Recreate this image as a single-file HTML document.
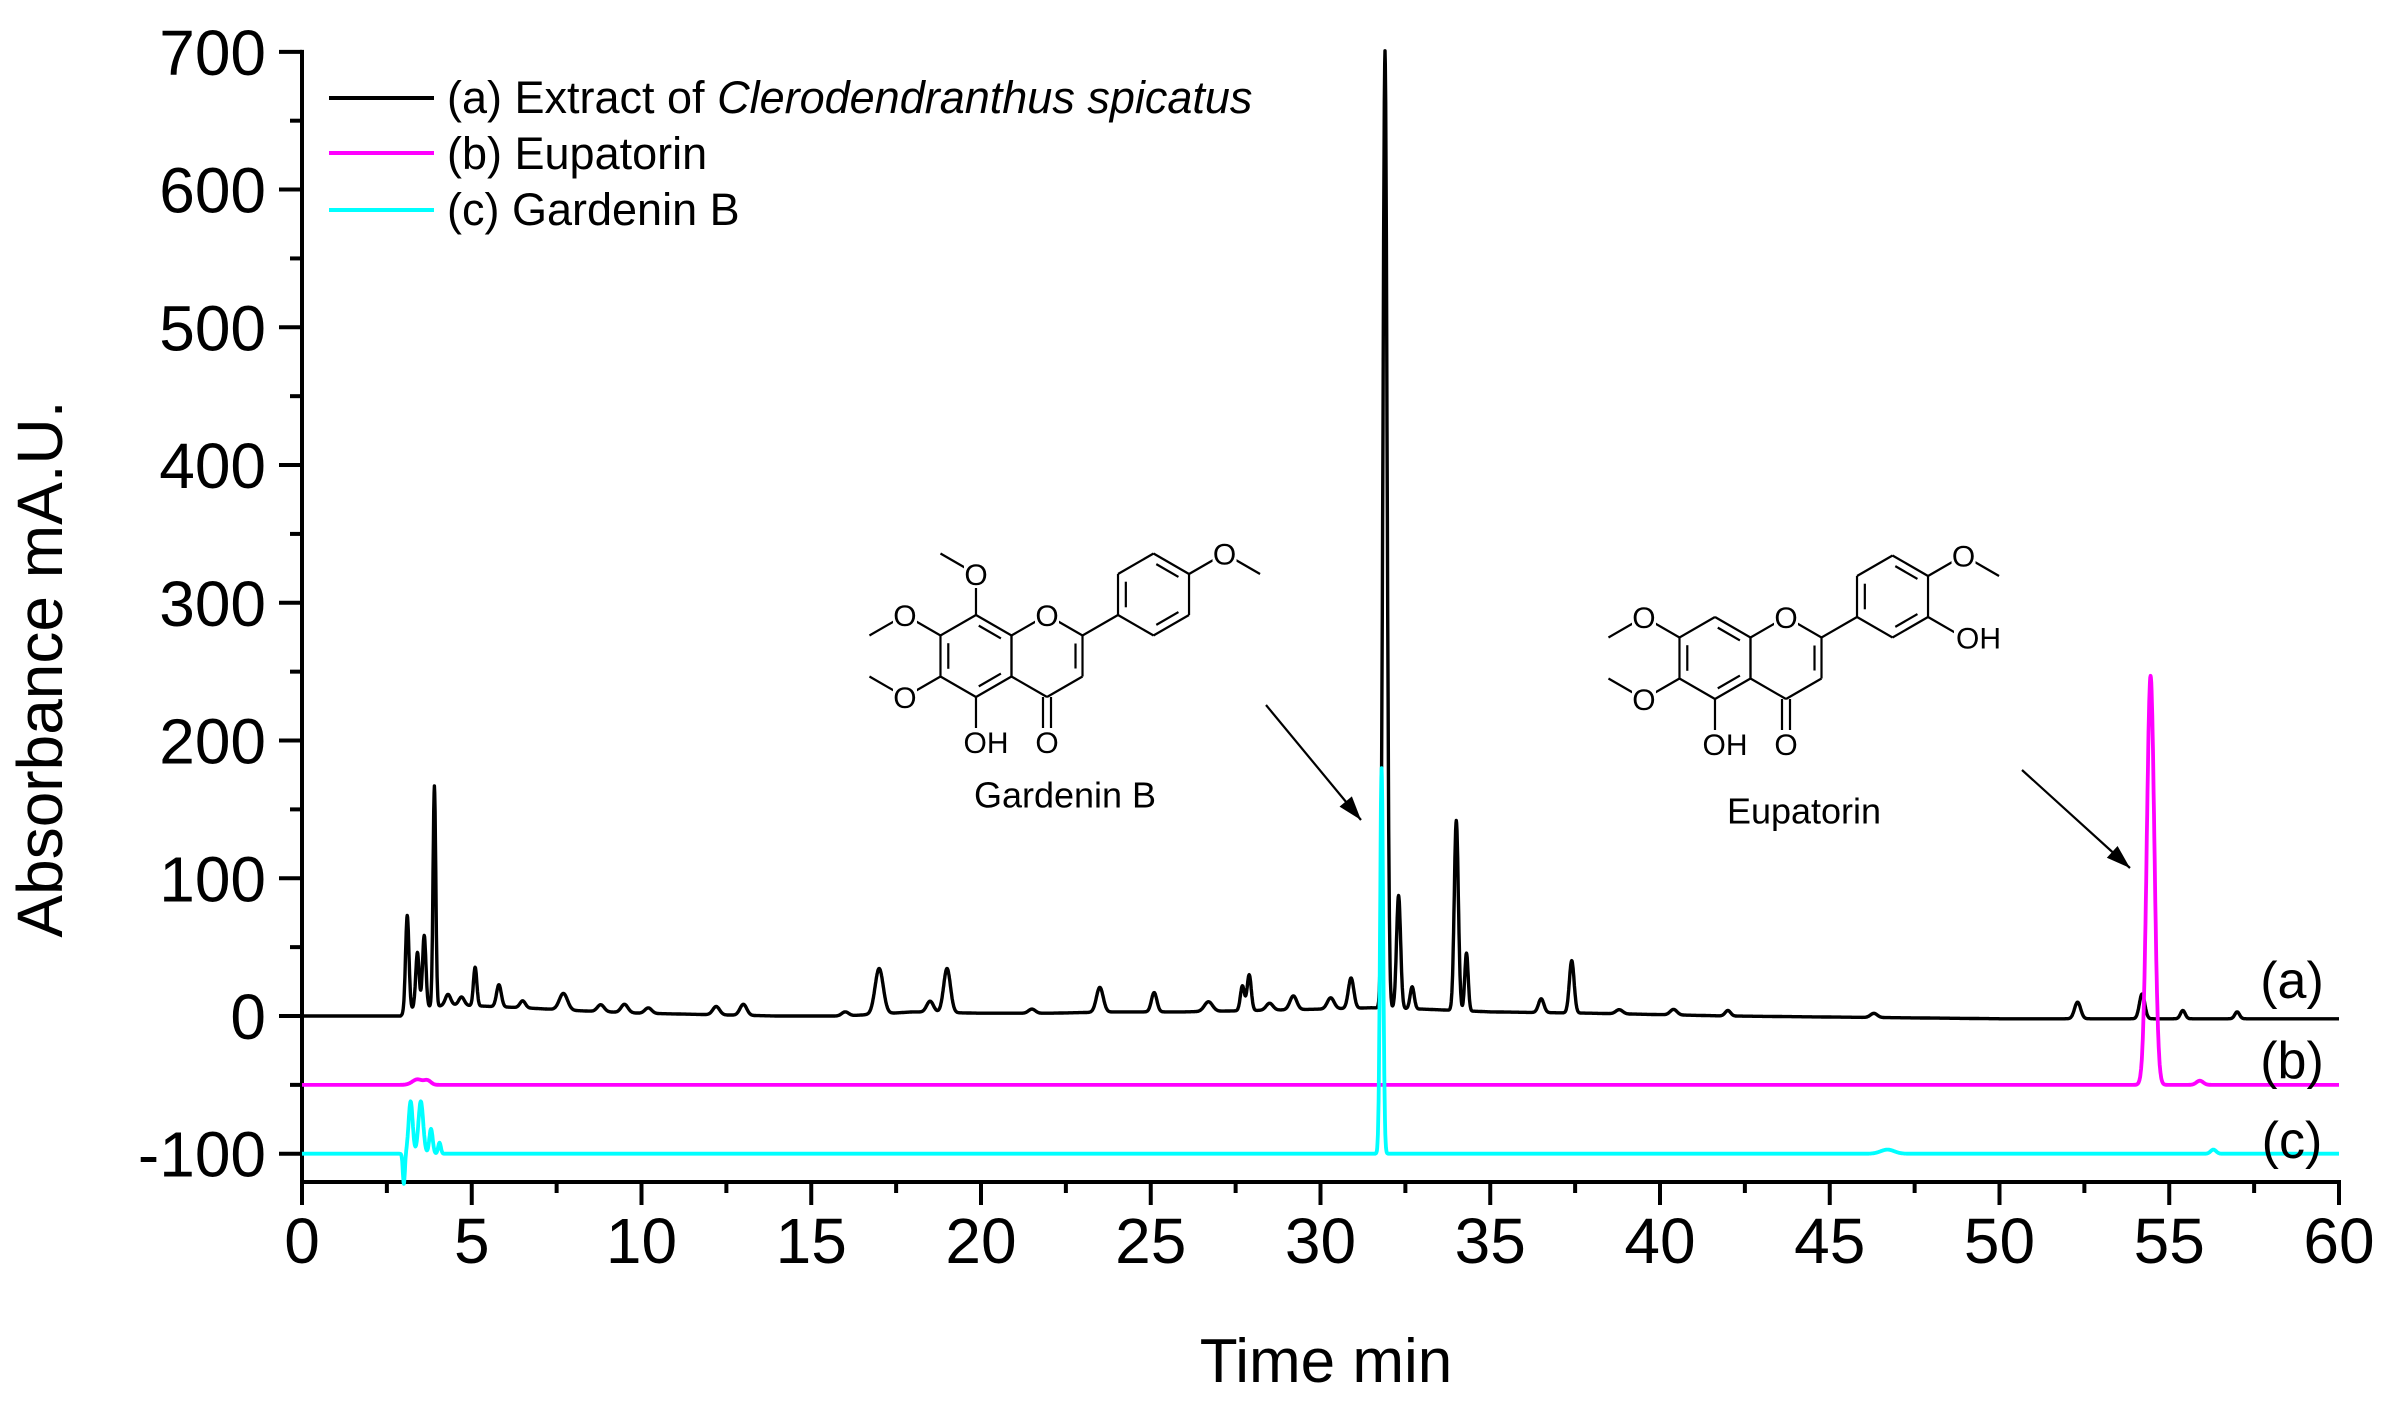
<!DOCTYPE html>
<html><head><meta charset="utf-8"><style>
html,body{margin:0;padding:0;background:#fff}
svg{display:block;font-family:"Liberation Sans",Arial,sans-serif}
</style></head><body>
<svg id="chart" width="2400" height="1404" viewBox="0 0 2400 1404" xmlns="http://www.w3.org/2000/svg">
<g id="axes"></g>
<g id="series"></g>
<g id="struct"></g>
<g id="legend">
<line x1="329" y1="98" x2="434" y2="98" stroke="#000" stroke-width="4"/>
<line x1="329" y1="153" x2="434" y2="153" stroke="#ff00ff" stroke-width="4"/>
<line x1="329" y1="210" x2="434" y2="210" stroke="#00ffff" stroke-width="4"/>
<text x="447" y="113" font-size="45">(a) Extract of <tspan font-style="italic">Clerodendranthus spicatus</tspan></text>
<text x="447" y="169" font-size="45">(b) Eupatorin</text>
<text x="447" y="225" font-size="45">(c) Gardenin B</text>
</g>
<text x="2292" y="998" font-size="52" text-anchor="middle">(a)</text>
<text x="2292" y="1078" font-size="52" text-anchor="middle">(b)</text>
<text x="2292" y="1158" font-size="52" text-anchor="middle">(c)</text>
<text transform="translate(62,669) rotate(-90)" font-size="64" text-anchor="middle">Absorbance mA.U.</text>
<text x="1326" y="1382" font-size="62" text-anchor="middle">Time min</text>
</svg>
<script>
// ---- data ----
var xTicks = [0,5,10,15,20,25,30,35,40,45,50,55,60];
var yTicks = [-100,0,100,200,300,400,500,600,700];
// trace (a) baseline knots
var aBaseT = [0,2.9,3.3,4.5,6.5,8,10,12,14,16,18,20,22,24,26,28,30,31.5,33,35,38,42,46,50,54,57,60];
var aBaseV = [0,0,6,8,6,4,2,1,0,0,3,2,2,3,3,4,5,6,5,3,2,0,-1,-2,-2,-2,-2];
// trace (a) peaks: time, height, width(sigma min)
var aPkT = [3.1,3.4,3.6,3.9,4.3,4.7,5.1,5.8,6.5,7.7,8.8,9.5,10.2,12.2,13.0,16.0,17.0,18.5,19.0,21.5,23.5,25.1,26.7,27.7,27.9,28.5,29.2,30.3,30.9,31.9,32.3,32.7,34.0,34.3,36.5,37.4,38.8,40.4,42.0,46.3,52.3,54.2,55.4,57.0];
var aPkH = [70,40,52,160,8,6,28,16,5,12,5,6,4,6,8,3,33,8,32,3,18,14,7,18,26,5,10,8,22,695,82,16,138,42,10,38,3,4,4,3,12,18,6,5];
var aPkW = [0.05,0.05,0.05,0.04,0.08,0.08,0.05,0.07,0.08,0.12,0.1,0.1,0.1,0.1,0.1,0.1,0.12,0.1,0.1,0.1,0.1,0.08,0.12,0.06,0.06,0.1,0.1,0.1,0.08,0.06,0.06,0.06,0.06,0.05,0.08,0.07,0.1,0.1,0.08,0.1,0.09,0.08,0.07,0.07];
// trace (b)
var bOffset = -50;
var bPkT = [3.4,3.7,54.45,55.9];
var bPkH = [4,3,297,3];
var bPkW = [0.15,0.1,0.11,0.1];
// trace (c)
var cOffset = -100;
var cPkT = [3.0,3.2,3.5,3.8,4.05,46.7,56.3,31.8];
var cPkH = [-22,38,38,18,8,3,3,280];
var cPkW = [0.03,0.06,0.07,0.05,0.04,0.2,0.08,0.045];

// ---- axes functions ----
var X0=302,X1=2339,Y0=1016,YPER=1.3774;
function sx(t){return X0+(t-0)/(60-0)*(X1-X0);}
function sy(v){return Y0-v*YPER;}
var NS="http://www.w3.org/2000/svg";
function mk(tag,attrs,parent){var e=document.createElementNS(NS,tag);for(var k in attrs)e.setAttribute(k,attrs[k]);parent.appendChild(e);return e;}

var axes=document.getElementById('axes');
var yl=mk('line',{x1:X0,y1:sy(700)-2,x2:X0,y2:1182,stroke:'#000','stroke-width':4},axes);


var xl=mk('line',{x1:X0-2,y1:1182,x2:X1+2,y2:1182,stroke:'#000','stroke-width':4},axes);


for(var t=0;t<=60;t+=2.5){
  var major=(t%5===0);
  var tk=mk('line',{x1:sx(t),y1:1182,x2:sx(t),y2:major?1205:1193,stroke:'#000','stroke-width':4},axes);
  
  
}
xTicks.forEach(function(t){
  var tx=mk('text',{x:sx(t),y:1263,'font-size':64,'text-anchor':'middle'},axes);
  tx.textContent=t;
  
  
});
for(var v=-100;v<=700;v+=50){
  var mj=(v%100===0);
  var tk2=mk('line',{x1:mj?X0-23:X0-12,y1:sy(v),x2:X0,y2:sy(v),stroke:'#000','stroke-width':4},axes);
  
  
}
yTicks.forEach(function(v){
  var ty=mk('text',{x:266,y:sy(v)+23,'font-size':64,'text-anchor':'end'},axes);
  ty.textContent=v;
  
  
});

// ---- series ----
function interp(ts,vs,t){
  if(t<=ts[0])return vs[0];
  for(var i=1;i<ts.length;i++){if(t<=ts[i]){var f=(t-ts[i-1])/(ts[i]-ts[i-1]);return vs[i-1]+f*(vs[i]-vs[i-1]);}}
  return vs[vs.length-1];
}
function peaks(T,H,W,t){var s=0;for(var i=0;i<T.length;i++){var d=(t-T[i])/W[i];if(Math.abs(d)<6)s+=H[i]*Math.exp(-0.5*d*d);}return s;}
function buildPath(fn){
  var d='';
  for(var i=0;i<=6000;i++){var t=i*0.01;var v=fn(t);d+=(i?'L':'M')+sx(t).toFixed(1)+' '+sy(v).toFixed(1);}
  return d;
}
var ser=document.getElementById('series');
var pa=mk('path',{d:buildPath(function(t){return interp(aBaseT,aBaseV,t)+peaks(aPkT,aPkH,aPkW,t);}),fill:'none',stroke:'#000','stroke-width':3.4,'stroke-linejoin':'round'},ser);


var pb=mk('path',{d:buildPath(function(t){return bOffset+peaks(bPkT,bPkH,bPkW,t);}),fill:'none',stroke:'#ff00ff','stroke-width':3.8,'stroke-linejoin':'round'},ser);


var pc=mk('path',{d:buildPath(function(t){return cOffset+peaks(cPkT,cPkH,cPkW,t);}),fill:'none',stroke:'#00ffff','stroke-width':3.8,'stroke-linejoin':'round'},ser);



// ---- structures ----
var st=document.getElementById('struct');
function ln(x1,y1,x2,y2,g){mk('line',{x1:x1,y1:y1,x2:x2,y2:y2,stroke:'#000','stroke-width':2.2},g);}
function lbl(x,y,s,g,anchor){
  var w=s.length>1?44:24;
  var bx=(anchor==='start')?x-2:x-w/2;
  mk('rect',{x:bx,y:y-14,width:w,height:28,fill:'#fff'},g);
  var e=mk('text',{x:x,y:y+11,'font-size':30,'text-anchor':anchor||'middle',fill:'#000'},g);e.textContent=s;return e;}
function vtx(cx,cy,L,ang){var a=ang*Math.PI/180;return [cx+L*Math.cos(a),cy+L*Math.sin(a)];}
function ring(cx,cy,L,g,dbl){
  var angs=[-90,-30,30,90,150,210];
  for(var i=0;i<6;i++){var p=vtx(cx,cy,L,angs[i]),q=vtx(cx,cy,L,angs[(i+1)%6]);ln(p[0],p[1],q[0],q[1],g);
    if(dbl.indexOf(i)>=0){var pi=vtx(cx,cy,L*0.78,angs[i]),qi=vtx(cx,cy,L*0.78,angs[(i+1)%6]);
      var mx=(pi[0]+qi[0])/2,my=(pi[1]+qi[1])/2;ln(mx+(pi[0]-mx)*0.8,my+(pi[1]-my)*0.8,mx+(qi[0]-mx)*0.8,my+(qi[1]-my)*0.8,g);}}
}
function flavone(cx,cy,L,opts,name,title,titleDy){
  var g=mk('g',{},st);
  
  
  var ax=cx-L*Math.sqrt(3);
  ring(ax,cy,L,g,[0,2,4]);
  ring(cx,cy,L,g,[]);
  var c2=vtx(cx,cy,L,-30),c3=vtx(cx,cy,L,30);
  ln(c2[0]-7,c2[1]+8,c3[0]-7,c3[1]-8,g);
  var c4=vtx(cx,cy,L,90);
  ln(c4[0]-4,c4[1],c4[0]-4,c4[1]+L-8,g);ln(c4[0]+4,c4[1],c4[0]+4,c4[1]+L-8,g);
  var bx=c2[0]+2*L*Math.cos(-Math.PI/6),by=c2[1]-L;
  var bl=vtx(bx,by,L,150);ln(c2[0],c2[1],bl[0],bl[1],g);
  ring(bx,by,L,g,[0,2,4]);
  var c5=vtx(ax,cy,L,90);ln(c5[0],c5[1],c5[0],c5[1]+L*0.9,g);
  var labels=[];
  function ome(px,py,ang,ang2){var o=[px+L*Math.cos(ang*Math.PI/180),py+L*Math.sin(ang*Math.PI/180)];
    ln(px,py,o[0],o[1],g);var m=[o[0]+L*Math.cos(ang2*Math.PI/180),o[1]+L*Math.sin(ang2*Math.PI/180)];ln(o[0],o[1],m[0],m[1],g);labels.push([o[0],o[1],'O']);}
  var c7=vtx(ax,cy,L,210),c6=vtx(ax,cy,L,150),c8=vtx(ax,cy,L,-90);
  ome(c7[0],c7[1],-150,150);ome(c6[0],c6[1],150,-150);
  if(opts.c8)ome(c8[0],c8[1],-90,-150);
  var b4=vtx(bx,by,L,-30);
  ome(b4[0],b4[1],-30,30);
  if(opts.b3oh){var b3=vtx(bx,by,L,30);var o=[b3[0]+L*0.9*Math.cos(Math.PI/6),b3[1]+L*0.9*Math.sin(Math.PI/6)];ln(b3[0],b3[1],o[0],o[1],g);labels.push([o[0]-4,o[1]+2,'OH','start']);}
  labels.push([c4[0],c4[1]+L+4,'O']);
  labels.push([cx,cy-L,'O']);
  labels.push([c5[0]+10,c5[1]+L+4,'OH']);
  labels.forEach(function(l){lbl(l[0],l[1],l[2],g,l[3]);});
  var tt=mk('text',{x:cx+18,y:cy+L*3.4+12+titleDy,'font-size':36,'text-anchor':'middle'},g);
  tt.textContent=title;
  
  
}
flavone(1047,656,41,{c8:true},'gardenin-b-structure','Gardenin B',0);
flavone(1786,658,41,{c8:false,b3oh:true},'eupatorin-structure','Eupatorin',14);

function arrow(x1,y1,x2,y2,name){
  var g=mk('g',{},st);
  
  
  ln(x1,y1,x2,y2,g);
  var a=Math.atan2(y2-y1,x2-x1),h=24,w=8;
  var p1=[x2-h*Math.cos(a)+w*Math.sin(a),y2-h*Math.sin(a)-w*Math.cos(a)],p2=[x2-h*Math.cos(a)-w*Math.sin(a),y2-h*Math.sin(a)+w*Math.cos(a)];
  mk('polygon',{points:x2+','+y2+' '+p1.join(',')+' '+p2.join(','),fill:'#000'},g);
}
arrow(1266,705,1361,820,'gardenin-arrow');
arrow(2022,770,2130,868,'eupatorin-arrow');
</script>
</body></html>
